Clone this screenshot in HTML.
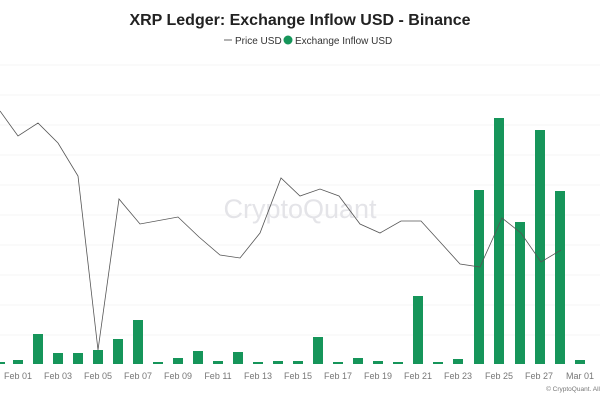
<!DOCTYPE html>
<html><head><meta charset="utf-8"><style>
html,body{margin:0;padding:0;background:#fff;width:600px;height:400px;overflow:hidden;font-family:"Liberation Sans",sans-serif}
</style></head><body>
<svg width="600" height="400" xmlns="http://www.w3.org/2000/svg" font-family="Liberation Sans, sans-serif">
<rect width="600" height="400" fill="#fff"/>
<text x="300" y="25" text-anchor="middle" font-size="16" font-weight="bold" fill="#222">XRP Ledger: Exchange Inflow USD - Binance</text>
<line x1="224" y1="40" x2="232" y2="40" stroke="#666" stroke-width="1"/>
<text x="235" y="44" font-size="10" fill="#333">Price USD</text>
<circle cx="288" cy="40" r="4.5" fill="#16955a"/>
<text x="295" y="44" font-size="10" fill="#333">Exchange Inflow USD</text>
<g stroke="#f6f6f6" stroke-width="1">
<line x1="0" y1="65" x2="600" y2="65"/><line x1="0" y1="95" x2="600" y2="95"/><line x1="0" y1="125" x2="600" y2="125"/><line x1="0" y1="155" x2="600" y2="155"/><line x1="0" y1="185" x2="600" y2="185"/><line x1="0" y1="215" x2="600" y2="215"/><line x1="0" y1="245" x2="600" y2="245"/><line x1="0" y1="275" x2="600" y2="275"/><line x1="0" y1="305" x2="600" y2="305"/><line x1="0" y1="335" x2="600" y2="335"/>
</g>
<text x="300" y="218" text-anchor="middle" font-size="27" fill="#e4e4e8">CryptoQuant</text>
<g fill="#16955a">
<rect x="-5" y="362" width="10" height="2"/>
<rect x="13" y="360" width="10" height="4"/>
<rect x="33" y="334" width="10" height="30"/>
<rect x="53" y="353" width="10" height="11"/>
<rect x="73" y="353" width="10" height="11"/>
<rect x="93" y="350" width="10" height="14"/>
<rect x="113" y="339" width="10" height="25"/>
<rect x="133" y="320" width="10" height="44"/>
<rect x="153" y="362" width="10" height="2"/>
<rect x="173" y="358" width="10" height="6"/>
<rect x="193" y="351" width="10" height="13"/>
<rect x="213" y="361" width="10" height="3"/>
<rect x="233" y="352" width="10" height="12"/>
<rect x="253" y="362" width="10" height="2"/>
<rect x="273" y="361" width="10" height="3"/>
<rect x="293" y="361" width="10" height="3"/>
<rect x="313" y="337" width="10" height="27"/>
<rect x="333" y="362" width="10" height="2"/>
<rect x="353" y="358" width="10" height="6"/>
<rect x="373" y="361" width="10" height="3"/>
<rect x="393" y="362" width="10" height="2"/>
<rect x="413" y="296" width="10" height="68"/>
<rect x="433" y="362" width="10" height="2"/>
<rect x="453" y="359" width="10" height="5"/>
<rect x="474" y="190" width="10" height="174"/>
<rect x="494" y="118" width="10" height="246"/>
<rect x="515" y="222" width="10" height="142"/>
<rect x="535" y="130" width="10" height="234"/>
<rect x="555" y="191" width="10" height="173"/>
<rect x="575" y="360" width="10" height="4"/>
</g>
<polyline fill="none" stroke="#555" stroke-width="0.8" points="0,111 18,136 38,123 58,143 78,176 98,350 119,199 140,224 178,217 199,237 220,255 240,258 260,233 281,178 300,196 320,189 339,196 360,224 380,233 401,221 421,221 441,243 460,264 480,267 502,218 521,233 541,262 561,250"/>
<g font-size="9" fill="#777" text-anchor="middle">
<text x="18" y="379">Feb 01</text><text x="58" y="379">Feb 03</text><text x="98" y="379">Feb 05</text><text x="138" y="379">Feb 07</text><text x="178" y="379">Feb 09</text><text x="218" y="379">Feb 11</text><text x="258" y="379">Feb 13</text><text x="298" y="379">Feb 15</text><text x="338" y="379">Feb 17</text><text x="378" y="379">Feb 19</text><text x="418" y="379">Feb 21</text><text x="458" y="379">Feb 23</text><text x="499" y="379">Feb 25</text><text x="539" y="379">Feb 27</text><text x="580" y="379">Mar 01</text>
</g>
<text x="600" y="391" text-anchor="end" font-size="6.5" fill="#777">© CryptoQuant. All</text>
</svg>
</body></html>
